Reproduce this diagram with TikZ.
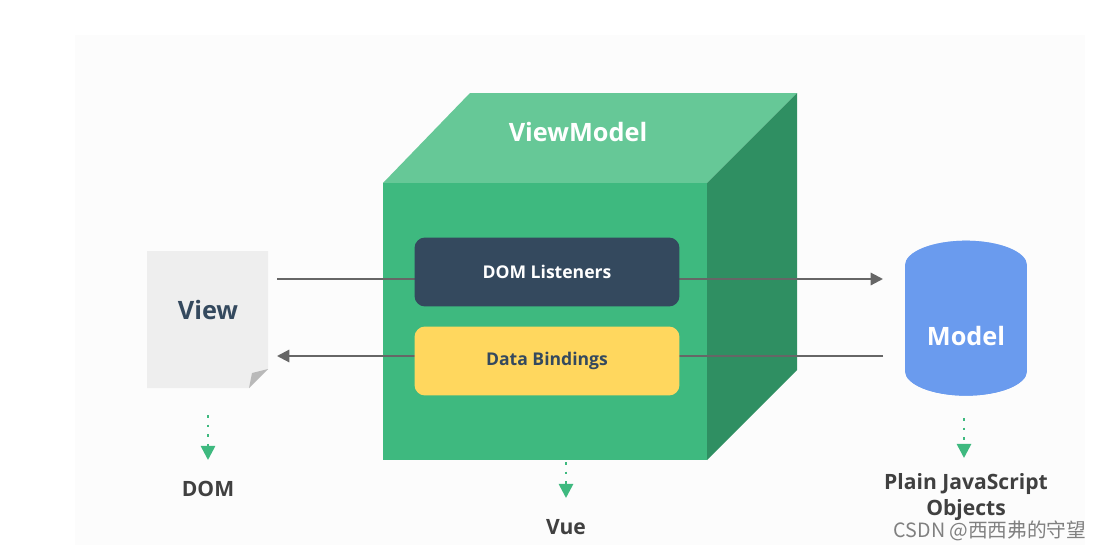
\documentclass[tikz,border=0pt]{standalone}
\usepackage{fontspec}
\setmainfont{Open Sans}
\newfontfamily\cjk{Noto Sans CJK SC}
\usetikzlibrary{shapes.geometric,arrows.meta}
\definecolor{vmfront}{HTML}{3EB97F}
\definecolor{vmtop}{HTML}{66C897}
\definecolor{vmside}{HTML}{2F8F62}
\definecolor{darkslate}{HTML}{34495E}
\definecolor{bindyellow}{HTML}{FFD75E}
\definecolor{pagegray}{HTML}{EEEEEE}
\definecolor{cyltop}{HTML}{A3C2F5}
\definecolor{cylbody}{HTML}{6A9BEE}
\definecolor{dotgreen}{HTML}{3EB97F}
\tikzset{
  innerbox/.style = {rectangle, rounded corners=6pt, minimum width=5.3cm, minimum height=1.38cm, font=\bfseries},
  flow/.style = {draw=gray!80!black, line width=1.2pt, -{Triangle[length=7pt,width=7pt]}},
  down/.style = {draw=dotgreen, line width=1.5pt, dash pattern=on 1.5pt off 4pt, -{Triangle[length=8pt,width=8pt,fill=dotgreen]}},
  layer/.style = {text=black!75, font=\bfseries\large, align=center}
}
\begin{document}
\begin{tikzpicture}[x=0.02cm, y=-0.02cm]
\useasboundingbox (0,0) rectangle (1100,551);
\fill[black!1] (75,35) rectangle (1085,545);

% ViewModel cube
\fill[vmtop] (383,183) -- (470,93) -- (797,93) -- (707,183) -- cycle;
\fill[vmside] (707,183) -- (797,93) -- (797,370) -- (707,460) -- cycle;
\fill[vmfront] (383,183) rectangle (707,460);
\node[text=white, font=\bfseries\Large] (vm) at (578,132) {ViewModel};
\coordinate (vue) at (566,462);

% view and model
\fill[pagegray] (147,251) -- (268,251) -- (268,369) -- (249,388) -- (147,388) -- cycle;
\fill[gray!55] (268,369) -- (252,373) -- (249,388) -- cycle;
\node[text=darkslate, font=\bfseries\Large] (view) at (208,310) {View};
\node[cylinder, shape border rotate=90, aspect=0.55, minimum width=2.44cm, minimum height=3.1cm,
  fill=cylbody, cylinder uses custom fill, cylinder body fill=cylbody, cylinder end fill=cyltop,
  text=white, font=\bfseries\Large] (model) at (966,336) {Model};

% arrows behind the inner boxes
\coordinate (vr1) at (277,279);
\coordinate (vr2) at (277,356);
\coordinate (ml1) at (883,279);
\coordinate (ml2) at (883,356);
\path[flow] (vr1) -- (ml1);
\path[flow] (ml2) -- (vr2);

\node[innerbox, fill=darkslate, text=white] (listen) at (547,272) {DOM Listeners};
\node[innerbox, fill=bindyellow, text=darkslate] (bind) at (547,361) {Data Bindings};

% layers
\node[layer] (dom) at (208,489) {DOM};
\node[layer] (vuel) at (566,527) {Vue};
\node[layer, font=\bfseries\large\linespread{1.05}\selectfont] (plain) at (966,497) {Plain JavaScript\\Objects};
\path[down] (208,415) -- (208,460);
\path[down] (vue) -- (566,498);
\path[down] (964,418) -- (964,458);

\node[text=gray, font=\cjk\fontsize{11.2}{13}\selectfont] (mark) at (990,531) {CSDN @西西弗的守望};
\end{tikzpicture}
\end{document}
